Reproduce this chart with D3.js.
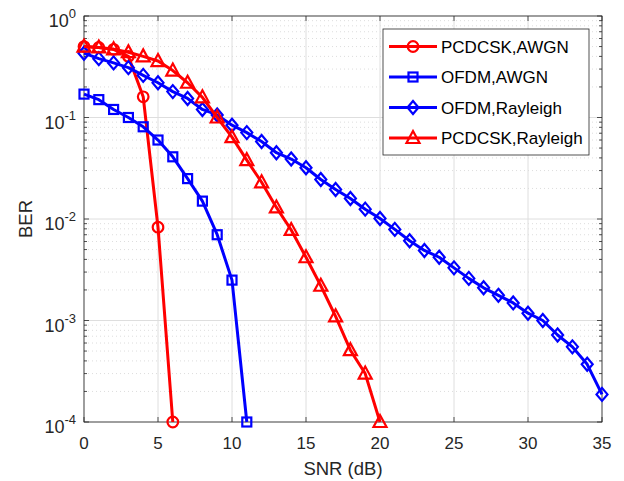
<!DOCTYPE html>
<html>
<head>
<meta charset="utf-8">
<script src="https://cdn.jsdelivr.net/npm/d3@7"></script>
<style>
  body { margin: 0; background: #fff; }
  svg { font-family: 'Liberation Sans', Arial, sans-serif; }
</style>
</head>
<body>
<div id="chart"></div>
<script>
// values
const snrPcdcskAwgn = [0, 1, 2, 3, 4, 5, 6]
const berPcdcskAwgn = [0.50, 0.49, 0.47, 0.40, 0.16, 0.0083, 1e-4]

const snrOfdmAwgn = [0, 1, 2, 3, 4, 5, 6, 7, 8, 9, 10, 11]
const berOfdmAwgn = [0.17, 0.15, 0.12, 0.10, 0.081, 0.060, 0.041, 0.025, 0.015, 0.0070, 0.0025, 1e-4]

const snrOfdmRay = d3.range(0, 36)
const berOfdmRay = [0.43, 0.38, 0.345, 0.31, 0.26, 0.22, 0.18, 0.154, 0.12, 0.106,
  0.084, 0.071, 0.058, 0.045, 0.039, 0.032, 0.0245, 0.0195, 0.0159, 0.0125,
  0.0101, 0.0079, 0.0061, 0.0049, 0.0042, 0.0033, 0.0026, 0.0021, 0.00177, 0.00149,
  0.00118, 0.00100, 0.00072, 0.00055, 0.00037, 0.000187]

const snrPcdcskRay = d3.range(0, 21)
const berPcdcskRay = [0.50, 0.49, 0.47, 0.44, 0.40, 0.36, 0.29, 0.22, 0.158, 0.10,
  0.064, 0.038, 0.023, 0.013, 0.0078, 0.0042, 0.0022, 0.0011, 0.00051, 0.00030, 1e-4]

const xTicks = [0, 5, 10, 15, 20, 25, 30, 35]
const yTicks = [0, -1, -2, -3, -4] // exponents

const seriesNames = ['PCDCSK,AWGN', 'OFDM,AWGN', 'OFDM,Rayleigh', 'PCDCSK,Rayleigh']

const series = [
  { name: seriesNames[0], x: snrPcdcskAwgn, y: berPcdcskAwgn, color: '#ff0000', marker: 'circle' },
  { name: seriesNames[1], x: snrOfdmAwgn, y: berOfdmAwgn, color: '#0000ff', marker: 'square' },
  { name: seriesNames[2], x: snrOfdmRay, y: berOfdmRay, color: '#0000ff', marker: 'diamond' },
  { name: seriesNames[3], x: snrPcdcskRay, y: berPcdcskRay, color: '#ff0000', marker: 'triangle' }
]

const margin = { top: 16, right: 22, bottom: 59, left: 84 },
  width = 624 - margin.left - margin.right,
  height = 481 - margin.top - margin.bottom

const svg = d3.select('#chart')
  .append('svg')
  .attr('width', 624)
  .attr('height', 481)

const g = svg.append('g')
  .attr('transform', `translate(${margin.left},${margin.top})`)

const x = d3.scaleLinear().domain([0, 35]).range([0, width])
const y = d3.scaleLog().domain([1e-4, 1]).range([height, 0])

const axisColor = '#262626'

// minor grid (dotted)
const minorVals = []
for (let e = -4; e < 0; e++) {
  for (let k = 2; k <= 9; k++) minorVals.push(k * Math.pow(10, e))
}
g.selectAll('.minor-grid')
  .data(minorVals)
  .join('line')
  .attr('x1', 0).attr('x2', width)
  .attr('y1', d => y(d)).attr('y2', d => y(d))
  .attr('stroke', '#d4d4d4')
  .attr('stroke-width', 0.8)
  .attr('stroke-dasharray', '1,3')

// major grid
g.selectAll('.xgrid')
  .data(xTicks)
  .join('line')
  .attr('x1', d => x(d)).attr('x2', d => x(d))
  .attr('y1', 0).attr('y2', height)
  .attr('stroke', '#dedede')
g.selectAll('.ygrid')
  .data(yTicks)
  .join('line')
  .attr('x1', 0).attr('x2', width)
  .attr('y1', d => y(Math.pow(10, d))).attr('y2', d => y(Math.pow(10, d)))
  .attr('stroke', '#dedede')

// box
g.append('rect')
  .attr('width', width).attr('height', height)
  .attr('fill', 'none')
  .attr('stroke', axisColor)
  .attr('stroke-width', 0.8)

// ticks, all four sides, inward
const tk = g.append('g').attr('stroke', axisColor).attr('stroke-width', 0.8)
xTicks.forEach(t => {
  tk.append('line').attr('x1', x(t)).attr('x2', x(t)).attr('y1', height).attr('y2', height - 5)
  tk.append('line').attr('x1', x(t)).attr('x2', x(t)).attr('y1', 0).attr('y2', 5)
})
yTicks.forEach(e => {
  const yy = y(Math.pow(10, e))
  tk.append('line').attr('x1', 0).attr('x2', 5).attr('y1', yy).attr('y2', yy)
  tk.append('line').attr('x1', width).attr('x2', width - 5).attr('y1', yy).attr('y2', yy)
})
minorVals.forEach(v => {
  const yy = y(v)
  tk.append('line').attr('x1', 0).attr('x2', 3).attr('y1', yy).attr('y2', yy)
  tk.append('line').attr('x1', width).attr('x2', width - 3).attr('y1', yy).attr('y2', yy)
})

// tick labels
g.selectAll('.xlab')
  .data(xTicks)
  .join('text')
  .attr('x', d => x(d))
  .attr('y', height + 27)
  .attr('text-anchor', 'middle')
  .attr('font-size', 17)
  .attr('fill', axisColor)
  .text(d => d)

yTicks.forEach(e => {
  const t = g.append('text')
    .attr('x', -8)
    .attr('y', y(Math.pow(10, e)) + 11)
    .attr('text-anchor', 'end')
    .attr('font-size', 18)
    .attr('fill', axisColor)
  t.append('tspan').text('10')
  t.append('tspan').attr('dy', -9).attr('font-size', 13).text(e)
})

// axis titles
g.append('text')
  .attr('x', width / 2)
  .attr('y', height + 53)
  .attr('text-anchor', 'middle')
  .attr('font-size', 18.5)
  .attr('fill', axisColor)
  .text('SNR (dB)')

g.append('text')
  .attr('transform', `translate(${-52},${height / 2}) rotate(-90)`)
  .attr('text-anchor', 'middle')
  .attr('font-size', 18.5)
  .attr('fill', axisColor)
  .text('BER')

// markers
function drawMarker(sel, type, color) {
  if (type === 'circle') {
    sel.append('circle').attr('r', 5.3)
  } else if (type === 'square') {
    sel.append('rect').attr('x', -4.5).attr('y', -4.5).attr('width', 9).attr('height', 9)
  } else if (type === 'diamond') {
    sel.append('path').attr('d', 'M0,-6.5L5.5,0L0,6.5L-5.5,0Z')
  } else if (type === 'triangle') {
    sel.append('path').attr('d', 'M0,-7L6.5,5L-6.5,5Z')
  }
  sel.selectAll('*')
    .attr('fill', 'none')
    .attr('stroke', color)
    .attr('stroke-width', 2.2)
}

const line = d3.line()
  .x(d => x(d[0]))
  .y(d => y(d[1]))

series.forEach(s => {
  const pts = s.x.map((v, i) => [v, s.y[i]])
  g.append('path')
    .datum(pts)
    .attr('d', line)
    .attr('fill', 'none')
    .attr('stroke', s.color)
    .attr('stroke-width', 3)
    .attr('stroke-linejoin', 'round')
  g.selectAll(null)
    .data(pts)
    .join('g')
    .attr('transform', d => `translate(${x(d[0])},${y(d[1])})`)
    .each(function () { drawMarker(d3.select(this), s.marker, s.color) })
})

// legend
const lg = svg.append('g').attr('transform', 'translate(383,29)')
lg.append('rect')
  .attr('width', 206).attr('height', 126)
  .attr('fill', '#fff')
  .attr('stroke', axisColor)
  .attr('stroke-width', 0.8)
series.forEach((s, i) => {
  const ly = 17.5 + i * 30.5
  lg.append('line')
    .attr('x1', 6).attr('x2', 54)
    .attr('y1', ly).attr('y2', ly)
    .attr('stroke', s.color)
    .attr('stroke-width', 3)
  const m = lg.append('g').attr('transform', `translate(30,${ly})`)
  drawMarker(m, s.marker, s.color)
  lg.append('text')
    .attr('x', 58)
    .attr('y', ly + 6)
    .attr('font-size', 17)
    .attr('fill', '#000')
    .text(s.name)
})
</script>
</body>
</html>
